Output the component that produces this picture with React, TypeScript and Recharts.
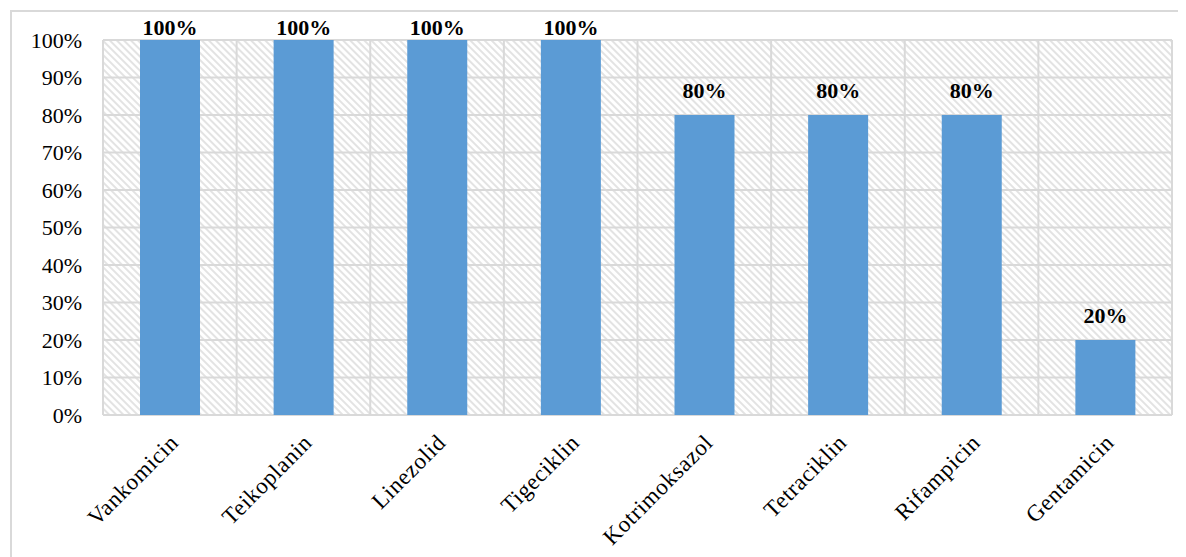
import { BarChart, Bar, XAxis, YAxis, CartesianGrid, LabelList } from 'recharts'

const categories = [
  'Vankomicin',
  'Teikoplanin',
  'Linezolid',
  'Tigeciklin',
  'Kotrimoksazol',
  'Tetraciklin',
  'Rifampicin',
  'Gentamicin',
]
const sensitivity = [1, 1, 1, 1, 0.8, 0.8, 0.8, 0.2]
const yTicks = [0, 0.1, 0.2, 0.3, 0.4, 0.5, 0.6, 0.7, 0.8, 0.9, 1]

const data = categories.map((name, i) => ({ name, value: sensitivity[i] }))

const FONT = '"Liberation Serif", "Times New Roman", serif'
const GRID = '#d9d9d9'
const BAR = '#5b9bd5'

const pct = (v: number) => `${Math.round(v * 100)}%`

function CategoryTick({ x, y, payload }: any) {
  return (
    <g transform={`translate(${x + 10},${y + 21})`}>
      <text
        textAnchor="end"
        transform="rotate(-45)"
        fontFamily={FONT}
        fontSize={23}
        letterSpacing={0.6}
        fill="#000"
      >
        {payload.value}
      </text>
    </g>
  )
}

function ValueLabel({ x, y, width, value }: any) {
  // labels that would leave the plot area are pulled down close to the bar
  const ty = y - 17 < 30 ? y - 5 : y - 17
  return (
    <text
      x={x + width / 2}
      y={ty}
      textAnchor="middle"
      fontFamily={FONT}
      fontSize={22}
      fontWeight="bold"
      fill="#000"
    >
      {pct(value)}
    </text>
  )
}

export default function App() {
  return (
    <div style={{ position: 'relative', width: 1178, height: 549, overflow: 'hidden' }}>
      <div
        style={{
          position: 'absolute',
          left: 2,
          top: 2,
          width: 1200,
          height: 600,
          borderLeft: `2px solid ${GRID}`,
          borderTop: `2px solid ${GRID}`,
        }}
      />
      <BarChart
        width={1178}
        height={549}
        data={data}
        margin={{ top: 32, right: 14, bottom: 0, left: 15 }}
        barSize={60}
        style={{ position: 'absolute', left: 0, top: 0 }}
      >
        <defs>
          <pattern
            id="hatch"
            width="5"
            height="5"
            patternUnits="userSpaceOnUse"
            patternTransform="rotate(45)"
          >
            <rect width="5" height="5" fill="#fff" />
            <line x1="0" y1="1" x2="5" y2="1" stroke="#dcdcdc" strokeWidth="1.6" />
          </pattern>
        </defs>
        <CartesianGrid
          fill="url(#hatch)"
          stroke={GRID}
          strokeWidth={2}
          verticalCoordinatesGenerator={({ offset }: any) =>
            categories.map((_, i) => offset.left + (offset.width * i) / categories.length).concat(
              offset.left + offset.width
            )
          }
          horizontalCoordinatesGenerator={({ offset }: any) =>
            yTicks.map((t) => offset.top + offset.height * (1 - t))
          }
        />
        <XAxis
          dataKey="name"
          height={142}
          interval={0}
          axisLine={false}
          tickLine={false}
          tick={<CategoryTick />}
        />
        <YAxis
          width={80}
          domain={[0, 1]}
          ticks={yTicks}
          tickFormatter={pct}
          axisLine={false}
          tickLine={false}
          tickSize={0}
          tickMargin={21}
          tick={{ fontFamily: FONT, fontSize: 22, fill: '#000' }}
        />
        <Bar dataKey="value" fill={BAR} isAnimationActive={false}>
          <LabelList dataKey="value" content={<ValueLabel />} />
        </Bar>
      </BarChart>
    </div>
  )
}
